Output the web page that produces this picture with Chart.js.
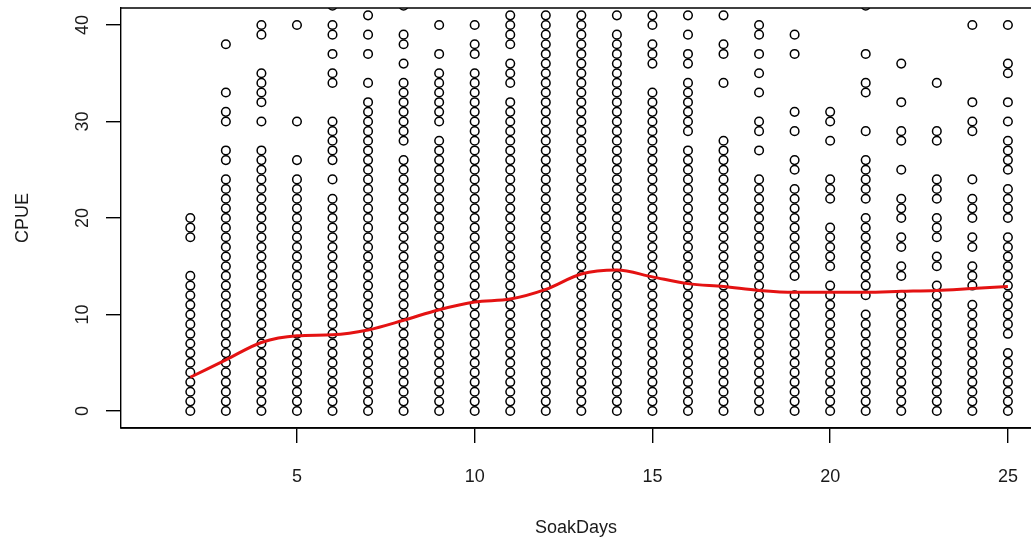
<!DOCTYPE html>
<html lang="en">
<head>
<meta charset="UTF-8">
<title>CPUE x SoakDays</title>
<script src="https://cdn.jsdelivr.net/npm/chart.js"></script>
<style>
  html, body { margin: 0; padding: 0; background: #fff; }
  #grafico { display: block; }
</style>
</head>
<body>
<canvas id="grafico" width="1031" height="539"></canvas>
<script>
// dias de imersao (eixo x)
const soakDays = [2,3,4,5,6,7,8,9,10,11,12,13,14,15,16,17,18,19,20,21,22,23,24,25];

const cpueDay2  = [0,1,2,3,4,5,6,7,8,9,10,11,12,13,14,18,19,20];
const cpueDay3  = [0,1,2,3,4,5,6,7,8,9,10,11,12,13,14,15,16,17,18,19,20,21,22,23,24,26,27,30,31,33,38];
const cpueDay4  = [0,1,2,3,4,5,6,7,8,9,10,11,12,13,14,15,16,17,18,19,20,21,22,23,24,25,26,27,30,32,33,34,35,39,40];
const cpueDay5  = [0,1,2,3,4,5,6,7,8,9,10,11,12,13,14,15,16,17,18,19,20,21,22,23,24,26,30,40];
const cpueDay6  = [0,1,2,3,4,5,6,7,8,9,10,11,12,13,14,15,16,17,18,19,20,21,22,24,26,27,28,29,30,34,35,37,39,40,42];
const cpueDay7  = [0,1,2,3,4,5,6,7,8,9,10,11,12,13,14,15,16,17,18,19,20,21,22,23,24,25,26,27,28,29,30,31,32,34,37,39,41];
const cpueDay8  = [0,1,2,3,4,5,6,7,8,9,10,11,12,13,14,15,16,17,18,19,20,21,22,23,24,25,26,28,29,30,31,32,33,34,36,38,39,42];
const cpueDay9  = [0,1,2,3,4,5,6,7,8,9,10,11,12,13,14,15,16,17,18,19,20,21,22,23,24,25,26,27,28,30,31,32,33,34,35,37,40];
const cpueDay10 = [0,1,2,3,4,5,6,7,8,9,10,11,12,13,14,15,16,17,18,19,20,21,22,23,24,25,26,27,28,29,30,31,32,33,34,35,37,38,40];
const cpueDay11 = [0,1,2,3,4,5,6,7,8,9,10,11,12,13,14,15,16,17,18,19,20,21,22,23,24,25,26,27,28,29,30,31,32,34,35,36,38,39,40,41];
const cpueDay12 = [0,1,2,3,4,5,6,7,8,9,10,11,12,13,14,15,16,17,18,19,20,21,22,23,24,25,26,27,28,29,30,31,32,33,34,35,36,37,38,39,40,41];
const cpueDay13 = [0,1,2,3,4,5,6,7,8,9,10,11,12,13,14,15,16,17,18,19,20,21,22,23,24,25,26,27,28,29,30,31,32,33,34,35,36,37,38,39,40,41];
const cpueDay14 = [0,1,2,3,4,5,6,7,8,9,10,11,12,13,14,15,16,17,18,19,20,21,22,23,24,25,26,27,28,29,30,31,32,33,34,35,36,37,38,39,41];
const cpueDay15 = [0,1,2,3,4,5,6,7,8,9,10,11,12,13,14,15,16,17,18,19,20,21,22,23,24,25,26,27,28,29,30,31,32,33,36,37,38,40,41];
const cpueDay16 = [0,1,2,3,4,5,6,7,8,9,10,11,12,13,14,15,16,17,18,19,20,21,22,23,24,25,26,27,29,30,31,32,33,34,36,37,39,41];
const cpueDay17 = [0,1,2,3,4,5,6,7,8,9,10,11,12,13,14,15,16,17,18,19,20,21,22,23,24,25,26,27,28,34,37,38,41];
const cpueDay18 = [0,1,2,3,4,5,6,7,8,9,10,11,12,13,14,15,16,17,18,19,20,21,22,23,24,27,29,30,33,35,37,39,40];
const cpueDay19 = [0,1,2,3,4,5,6,7,8,9,10,11,12,14,15,16,17,18,19,20,21,22,23,25,26,29,31,37,39];
const cpueDay20 = [0,1,2,3,4,5,6,7,8,9,10,11,12,13,15,16,17,18,19,22,23,24,28,30,31];
const cpueDay21 = [0,1,2,3,4,5,6,7,8,9,10,12,13,14,15,16,17,18,19,20,22,23,24,25,26,29,33,34,37,42];
const cpueDay22 = [0,1,2,3,4,5,6,7,8,9,10,11,12,14,15,17,18,20,21,22,25,28,29,32,36];
const cpueDay23 = [0,1,2,3,4,5,6,7,8,9,10,11,12,13,15,16,18,19,20,22,23,24,28,29,34];
const cpueDay24 = [0,1,2,3,4,5,6,7,8,9,10,11,13,14,15,17,18,20,21,22,24,29,30,32,40];
const cpueDay25 = [0,1,2,3,4,5,6,8,9,10,11,12,13,14,15,16,17,18,20,21,22,23,25,26,27,28,30,32,35,36,40];

const cpueByDay = [cpueDay2, cpueDay3, cpueDay4, cpueDay5, cpueDay6, cpueDay7, cpueDay8, cpueDay9,
    cpueDay10, cpueDay11, cpueDay12, cpueDay13, cpueDay14, cpueDay15, cpueDay16, cpueDay17,
    cpueDay18, cpueDay19, cpueDay20, cpueDay21, cpueDay22, cpueDay23, cpueDay24, cpueDay25];

// curva suavizada (vermelha), um valor por dia
const smoothCpue = [3.5, 5.3, 7.1, 7.8, 7.9, 8.4, 9.4, 10.5, 11.3, 11.6, 12.6, 14.2,
    14.6, 13.9, 13.2, 12.9, 12.5, 12.3, 12.3, 12.3, 12.4, 12.5, 12.7, 12.9];

// marcas dos eixos
const xTicks = [5, 10, 15, 20, 25];
const yTicks = [0, 10, 20, 30, 40];

// montando os pontos do grafico de dispersao
let pontos = [];
for (let i = 0; i < soakDays.length; i++) {
    for (let j = 0; j < cpueByDay[i].length; j++) {
        pontos.push({ x: soakDays[i], y: cpueByDay[i][j] });
    }
}
let curva = soakDays.map((d, i) => ({ x: d, y: smoothCpue[i] }));

Chart.defaults.font.family = "'Liberation Sans', Arial, sans-serif";
Chart.defaults.color = '#1a1a1a';

// moldura de cima e base ate a borda do canvas (como o box() do R)
const moldura = {
    id: 'moldura',
    afterDraw(chart) {
        const a = chart.chartArea;
        const ctx = chart.ctx;
        ctx.save();
        ctx.strokeStyle = '#000';
        ctx.lineWidth = 1.4;
        ctx.beginPath();
        ctx.moveTo(a.left, a.top);
        ctx.lineTo(chart.width, a.top);
        ctx.moveTo(a.left, a.bottom);
        ctx.lineTo(chart.width, a.bottom);
        ctx.stroke();
        ctx.restore();
    }
};

const gradeEixo = { display: true, drawOnChartArea: false, drawTicks: true, tickLength: 15, color: '#000', lineWidth: 1.4 };
const bordaEixo = { display: true, color: '#000', width: 1.4 };

const config = {
    data: {
        datasets: [
            {
                type: 'line',
                label: 'smooth',
                data: curva,
                borderColor: 'rgb(228, 18, 18)',
                borderWidth: 3,
                pointRadius: 0,
                cubicInterpolationMode: 'monotone',
                fill: false,
                order: 0
            },
            {
                type: 'scatter',
                label: 'CPUE',
                data: pontos,
                pointStyle: 'circle',
                pointRadius: 4.3,
                pointBorderWidth: 1.5,
                pointBorderColor: '#000',
                pointBackgroundColor: 'rgba(0,0,0,0)',
                borderColor: '#000',
                order: 1
            }
        ]
    },
    options: {
        responsive: false,
        animation: false,
        devicePixelRatio: 1,
        layout: { autoPadding: false, padding: { top: 8, left: 0, right: 0, bottom: 0 } },
        plugins: { legend: { display: false }, tooltip: { enabled: false } },
        scales: {
            x: {
                type: 'linear',
                min: 0.05,
                max: 25.65,
                afterBuildTicks: (eixo) => { eixo.ticks = xTicks.map(v => ({ value: v })); },
                afterFit: (eixo) => { eixo.height = 111; eixo.paddingLeft = 0; eixo.paddingRight = 0; },
                grid: gradeEixo,
                border: bordaEixo,
                ticks: { font: { size: 18 }, padding: 23, maxRotation: 0, autoSkip: false },
                title: { display: true, text: 'SoakDays', font: { size: 18 }, padding: { top: 0, bottom: 0 } }
            },
            y: {
                type: 'linear',
                min: -1.76,
                max: 41.76,
                afterBuildTicks: (eixo) => { eixo.ticks = yTicks.map(v => ({ value: v })); },
                afterFit: (eixo) => { eixo.width = 121; eixo.paddingTop = 0; eixo.paddingBottom = 0; },
                grid: gradeEixo,
                border: bordaEixo,
                ticks: { font: { size: 18 }, padding: 13, minRotation: 90, maxRotation: 90, crossAlign: 'center', autoSkip: false },
                title: { display: true, text: 'CPUE', font: { size: 18 }, padding: { top: 12, bottom: 0 } }
            }
        }
    },
    plugins: [moldura]
};

let myChart = new Chart(document.getElementById('grafico'), config);
</script>
</body>
</html>
